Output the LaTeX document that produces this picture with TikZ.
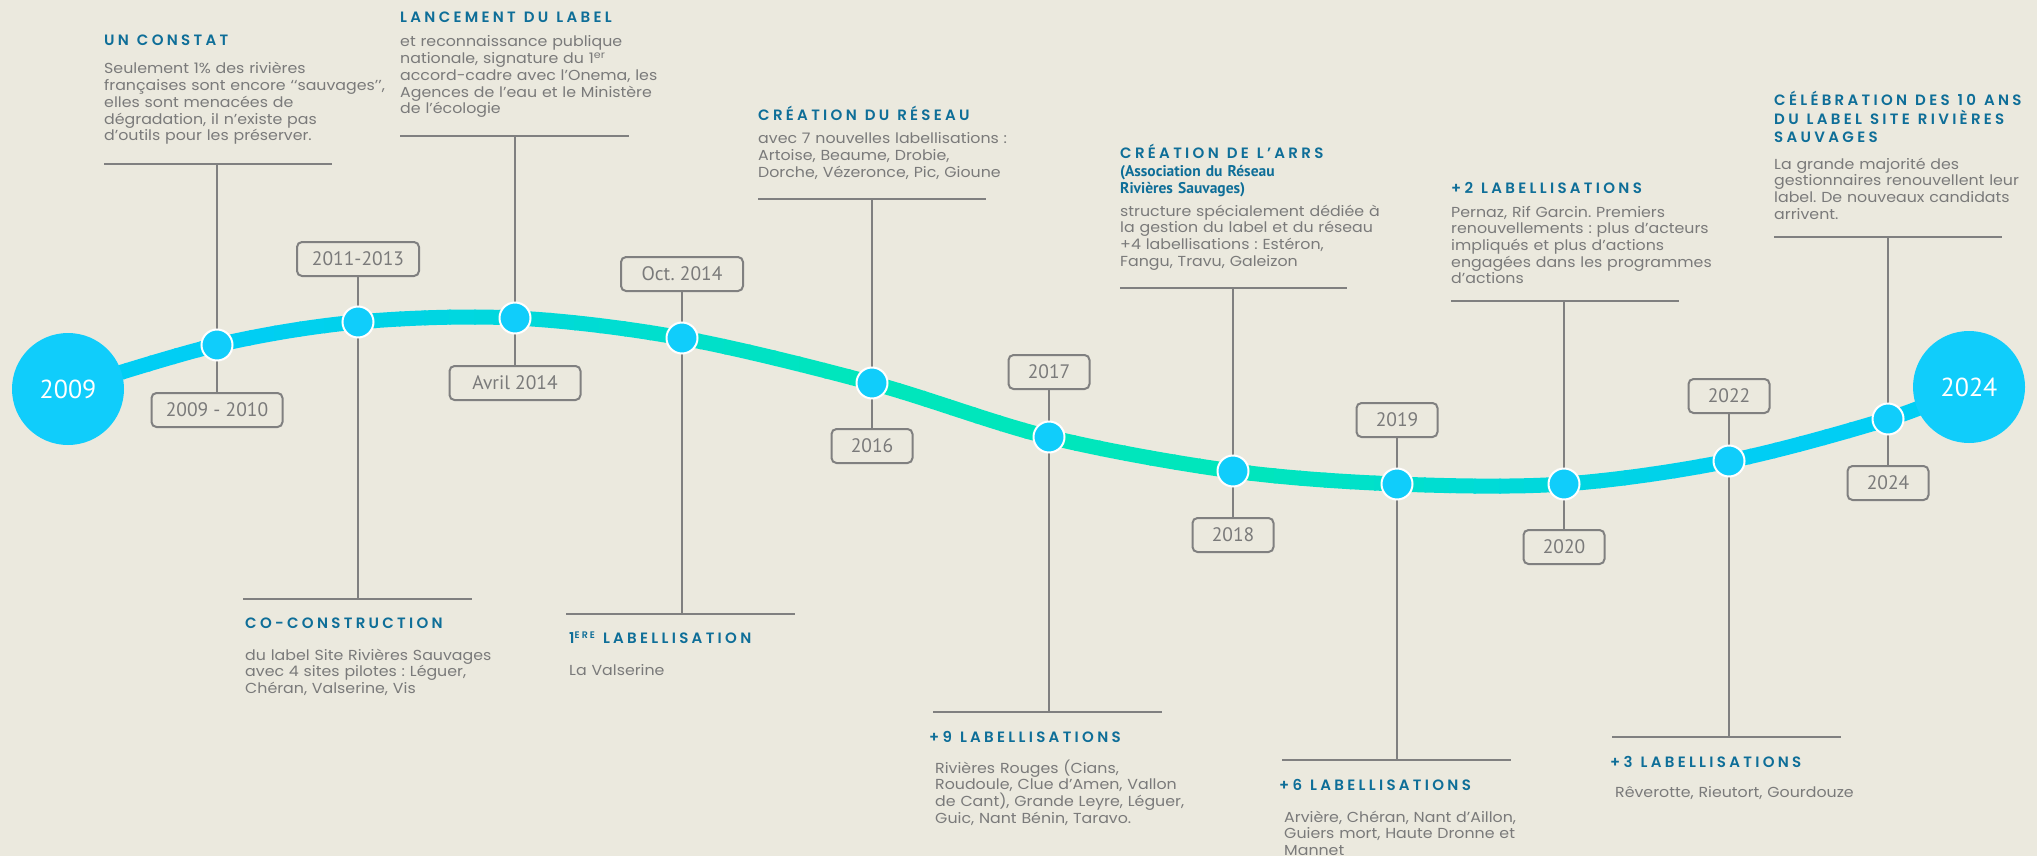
\documentclass[tikz,border=0pt]{standalone}
\usepackage{fontspec}
\setmainfont{Poppins}
\newfontfamily\bodyfont[FakeStretch=1.09]{Poppins}
\newfontfamily\titlefont[LetterSpace=22]{Poppins SemiBold}
\newfontfamily\datefont{PT Sans}
\newcommand\tsp{\hspace{8pt}}
\definecolor{bg}{HTML}{EBE9DE}
\definecolor{ttl}{HTML}{0E6E98}
\definecolor{txt}{HTML}{7A7A7A}
\definecolor{rulec}{HTML}{808080}
\definecolor{dotc}{HTML}{10CDFB}
\definecolor{lineC}{RGB}{0,206,244}
\definecolor{lineG}{RGB}{0,230,188}
\tikzset{
  ttlnode/.style={anchor=base west, inner sep=0pt, text=ttl, text width=340pt, align=left,
    font=\titlefont\fontsize{15}{18.5}\selectfont},
  subnode/.style={anchor=base west, inner sep=0pt, text=ttl, text width=320pt, align=left,
    font=\datefont\bfseries\fontsize{15.5}{17}\selectfont},
  bodynode/.style={anchor=base west, inner sep=0pt, text=txt, text width=340pt, align=left,
    font=\bodyfont\fontsize{14.5}{16.7}\selectfont},
  rulel/.style={draw=rulec, line width=2.2pt},
  vline/.style={draw=rulec, line width=2pt},
  dotnode/.style={circle, fill=dotc, draw=white, line width=2pt, minimum size=31pt, inner sep=0pt},
  datebox/.style={draw=rulec, line width=2pt, rounded corners=5pt, fill=bg, minimum height=34pt,
    inner sep=0pt, text=txt, font=\datefont\fontsize{19.5}{20}\selectfont},
  bigc/.style={circle, fill=dotc, minimum size=112pt, inner sep=0pt, text=white,
    font=\datefont\fontsize{26}{26}\selectfont},
}
\begin{document}
\frenchspacing
\begin{tikzpicture}[x=1pt, y=-1pt]
\fill[bg] (0,0) rectangle (2037,856);
\useasboundingbox (0,0) rectangle (2037,856);
% curve points
\coordinate (p0) at (68,389);
\coordinate (p1) at (217,345);
\coordinate (p2) at (358,322);
\coordinate (p3) at (515,318);
\coordinate (p4) at (682,338);
\coordinate (p5) at (872,383);
\coordinate (p6) at (1049,437);
\coordinate (p7) at (1233,471);
\coordinate (p8) at (1397,484);
\coordinate (p9) at (1564,484);
\coordinate (p10) at (1729,461);
\coordinate (p11) at (1888,419);
\coordinate (p12) at (1969,387);
% bar end points and tops
\coordinate (l1) at (104,164); \coordinate (r1) at (332,164); \coordinate (m1) at (217,164);
\coordinate (l2) at (243,599); \coordinate (r2) at (472,599); \coordinate (m2) at (358,599);
\coordinate (l3) at (400,136); \coordinate (r3) at (629,136); \coordinate (m3) at (515,136);
\coordinate (l4) at (566,614); \coordinate (r4) at (795,614); \coordinate (m4) at (682,614);
\coordinate (l5) at (758,199); \coordinate (r5) at (986,199); \coordinate (m5) at (872,199);
\coordinate (l6) at (933,712); \coordinate (r6) at (1162,712); \coordinate (m6) at (1049,712);
\coordinate (l7) at (1120,288); \coordinate (r7) at (1347,288); \coordinate (m7) at (1233,288);
\coordinate (l8) at (1282,760); \coordinate (r8) at (1511,760); \coordinate (m8) at (1397,760);
\coordinate (l9) at (1451,301); \coordinate (r9) at (1679,301); \coordinate (m9) at (1564,301);
\coordinate (l10) at (1612,737); \coordinate (r10) at (1841,737); \coordinate (m10) at (1729,737);
\coordinate (l11) at (1774,237); \coordinate (r11) at (2002,237); \coordinate (m11) at (1888,237);
% date boxes
\node[datebox, minimum width=131pt] (b1) at (217,410) {2009 - 2010};
\node[datebox, minimum width=122pt] (b2) at (358,259) {2011-2013};
\node[datebox, minimum width=131pt] (b3) at (515,383) {Avril 2014};
\node[datebox, minimum width=122pt] (b4) at (682,274) {Oct. 2014};
\node[datebox, minimum width=81pt] (b5) at (872,446) {2016};
\node[datebox, minimum width=81pt] (b6) at (1049,372) {2017};
\node[datebox, minimum width=81pt] (b7) at (1233,535) {2018};
\node[datebox, minimum width=81pt] (b8) at (1397,420) {2019};
\node[datebox, minimum width=81pt] (b9) at (1564,547) {2020};
\node[datebox, minimum width=81pt] (b10) at (1729,396) {2022};
\node[datebox, minimum width=81pt] (b11) at (1888,483) {2024};
% bars and verticals
\foreach \i in {1,...,11}{
  \draw[rulel] (l\i) -- (r\i);
  \draw[vline] (m\i) -- (b\i);
}
% gradient curve
\foreach \i in {0,...,81}{
  \pgfmathsetmacro\xa{\i*25}
  \pgfmathsetmacro\xm{\xa+12.5}
  \pgfmathsetmacro\pc{max(0,min(100,(\xm-250)/6,(1750-\xm)/5))}
  \begin{scope}
    \clip (\xa-1,0) rectangle (\xa+26,856);
    \draw[line width=15pt, color=lineG!\pc!lineC] plot[smooth, tension=0.55] coordinates
      {(p0) (p1) (p2) (p3) (p4) (p5) (p6) (p7) (p8) (p9) (p10) (p11) (p12)};
  \end{scope}
}
% dots
\foreach \i in {1,...,11}{
  \node[dotnode] (d\i) at (p\i) {};
}
% big circles
\node[bigc] (y2009) at (p0) {2009};
\node[bigc] (y2024) at (p12) {2024};
% texts
\node[ttlnode] (h1) at (104,46) {UN\tsp CONSTAT};
\node[bodynode] (x1) at (104,74) {Seulement 1\% des rivières\\françaises sont encore ‘‘sauvages’’,\\elles sont menacées de\\dégradation, il n’existe pas\\d’outils pour les préserver.};
\node[ttlnode] (h3) at (400,23) {LANCEMENT\tsp DU\tsp LABEL};
\node[bodynode] (x3) at (400,47) {et reconnaissance publique\\nationale, signature du 1\textsuperscript{er}\\accord-cadre avec l’Onema, les\\Agences de l’eau et le Ministère\\de l’écologie};
\node[ttlnode] (h5) at (758,121) {CRÉATION\tsp DU\tsp RÉSEAU};
\node[bodynode] (x5) at (758,144) {avec 7 nouvelles labellisations :\\Artoise, Beaume, Drobie,\\Dorche, Vézeronce, Pic, Gioune};
\node[ttlnode] (h7) at (1120,158) {CRÉATION\tsp DE\tsp L’ARRS};
\node[subnode] (s7) at (1120,176) {(Association du Réseau\\Rivières Sauvages)};
\node[bodynode] (x7) at (1120,216) {structure spécialement dédiée à\\la gestion du label et du réseau\\+4 labellisations : Estéron,\\Fangu, Travu, Galeizon};
\node[ttlnode] (h9) at (1451,193) {+2\tsp LABELLISATIONS};
\node[bodynode] (x9) at (1451,217) {Pernaz, Rif Garcin. Premiers\\renouvellements : plus d’acteurs\\impliqués et plus d’actions\\engagées dans les programmes\\d’actions};
\node[ttlnode] (h11) at (1774,106) {CÉLÉBRATION\tsp DES\tsp 10\tsp ANS\\DU\tsp LABEL\tsp SITE\tsp RIVIÈRES\\SAUVAGES};
\node[bodynode] (x11) at (1774,169) {La grande majorité des\\gestionnaires renouvellent leur\\label. De nouveaux candidats\\arrivent.};
\node[ttlnode] (h2) at (245,628) {CO-CONSTRUCTION};
\node[bodynode] (x2) at (245,660) {du label Site Rivières Sauvages\\avec 4 sites pilotes : Léguer,\\Chéran, Valserine, Vis};
\node[ttlnode] (h4) at (569,643) {1\raisebox{5pt}{\fontsize{9.5}{9.5}\selectfont ERE}\tsp LABELLISATION};
\node[bodynode] (x4) at (569,675) {La Valserine};
\node[ttlnode] (h6) at (929,742) {+9\tsp LABELLISATIONS};
\node[bodynode] (x6) at (935,773) {Rivières Rouges (Cians,\\Roudoule, Clue d’Amen, Vallon\\de Cant), Grande Leyre, Léguer,\\Guic, Nant Bénin, Taravo.};
\node[ttlnode] (h8) at (1279,790) {+6\tsp LABELLISATIONS};
\node[bodynode] (x8) at (1284,822) {Arvière, Chéran, Nant d’Aillon,\\Guiers mort, Haute Dronne et\\Mannet};
\node[ttlnode] (h10) at (1610,767) {+3\tsp LABELLISATIONS};
\node[bodynode] (x10) at (1615,797) {Rêverotte, Rieutort, Gourdouze};
\end{tikzpicture}
\end{document}
